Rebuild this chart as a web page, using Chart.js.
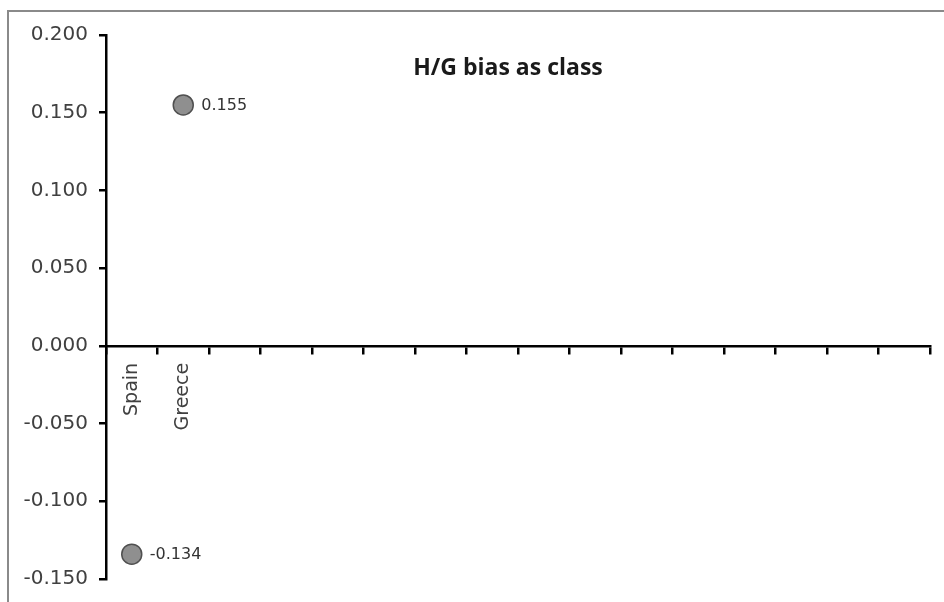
<!DOCTYPE html>
<html>
<head>
<meta charset="utf-8">
<script src="https://cdn.jsdelivr.net/npm/chart.js@4/dist/chart.umd.min.js"></script>
<style>
  html, body { margin: 0; padding: 0; background: #fff; }
  #wrap { position: relative; width: 944px; height: 602px; overflow: hidden; }
  #frame { position: absolute; left: 7px; top: 10px; width: 960px; height: 620px;
           border-top: 2px solid #8a8a8a; border-left: 2px solid #8a8a8a; }
  canvas { position: absolute; left: 0; top: 0; }
</style>
</head>
<body>
<div id="wrap">
  <div id="frame"></div>
  <canvas id="biasChart" width="944" height="602"></canvas>
</div>
<script>
// カテゴリ（ラベルがあるのは2つだけ）
const categories = ["Spain", "Greece", "", "", "", "", "", "", "", "", "", "", "", "", "", ""];
const biasValues = [-0.134, 0.155, null, null, null, null, null, null, null, null, null, null, null, null, null, null];
const yTicks = [-0.150, -0.100, -0.050, 0.000, 0.050, 0.100, 0.150, 0.200];
const chartTitle = "H/G bias as class";

// タイトルをプロット内に描く
const innerTitle = {
  id: "innerTitle",
  afterDraw(chart) {
    const { ctx, chartArea } = chart;
    ctx.save();
    ctx.font = "bold 23px 'Open Sans'";
    ctx.fillStyle = "#1a1a1a";
    ctx.textAlign = "center";
    ctx.textBaseline = "middle";
    ctx.fillText(chartTitle, (chartArea.left + chartArea.right) / 2 - 10, chartArea.top + 33);
    ctx.restore();
  }
};

// 値ラベル
const pointLabels = {
  id: "pointLabels",
  afterDatasetsDraw(chart) {
    const { ctx } = chart;
    const meta = chart.getDatasetMeta(0);
    ctx.save();
    ctx.font = "16px 'DejaVu Sans'";
    ctx.fillStyle = "#333";
    ctx.textAlign = "left";
    ctx.textBaseline = "middle";
    meta.data.forEach((pt, i) => {
      const v = biasValues[i];
      if (v === null) return;
      ctx.fillText(v.toFixed(3), pt.x + 18, pt.y + 1);
    });
    ctx.restore();
  }
};

const ctx = document.getElementById("biasChart").getContext("2d");
new Chart(ctx, {
  type: "line",
  data: {
    labels: categories,
    datasets: [{
      data: biasValues,
      showLine: false,
      pointRadius: 10,
      pointHoverRadius: 10,
      pointBackgroundColor: "#8f8f8f",
      pointBorderColor: "#505050",
      pointBorderWidth: 1.5
    }]
  },
  options: {
    responsive: false,
    animation: false,
    layout: { padding: { top: 35, right: 14, bottom: 22, left: 0 } },
    plugins: {
      legend: { display: false },
      tooltip: { enabled: false }
    },
    scales: {
      x: {
        type: "category",
        position: { y: 0 },
        offset: true,
        grid: { offset: true, drawOnChartArea: false, drawTicks: true, tickLength: 7, color: "#000", lineWidth: 2.5 },
        border: { display: true, color: "#000", width: 2.5 },
        ticks: {
          autoSkip: false,
          minRotation: 90,
          maxRotation: 90,
          padding: 10,
          color: "#404040",
          font: { family: "'DejaVu Sans'", size: 19 }
        }
      },
      y: {
        min: yTicks[0],
        max: yTicks[yTicks.length - 1],
        afterBuildTicks: scale => { scale.ticks = yTicks.map(v => ({ value: v })); },
        afterFit: scale => { scale.width = 106; },
        grid: { drawOnChartArea: false, drawTicks: true, tickLength: 7, color: "#000", lineWidth: 2.5 },
        border: { display: true, color: "#000", width: 2.5 },
        ticks: {
          padding: 11,
          color: "#404040",
          font: { family: "'DejaVu Sans'", size: 20 },
          callback: v => v.toFixed(3)
        }
      }
    }
  },
  plugins: [innerTitle, pointLabels]
});
</script>
</body>
</html>
